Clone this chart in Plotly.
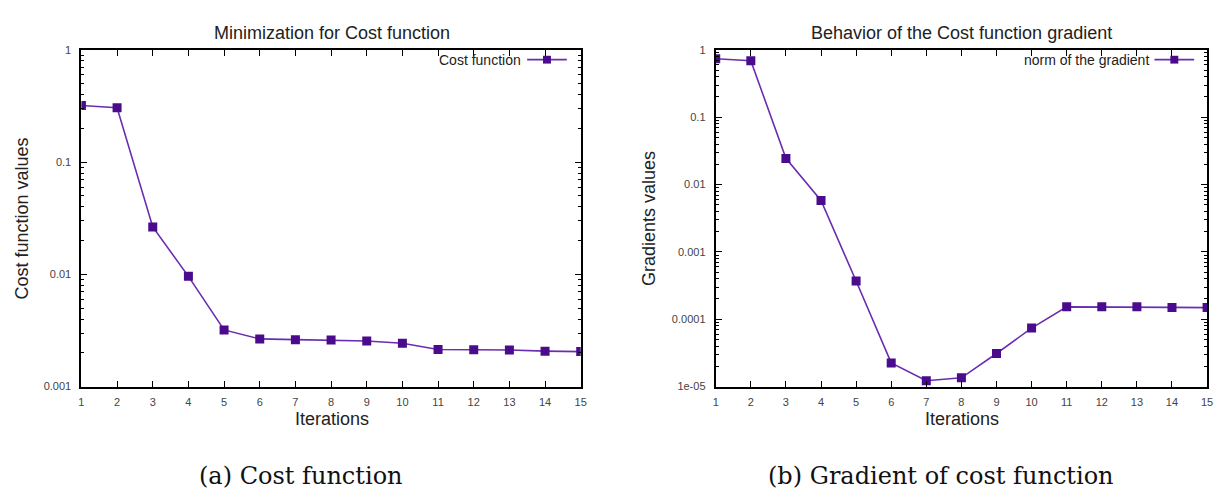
import plotly.graph_objects as go

iterations = list(range(1, 16))
cost_values = [0.32, 0.305, 0.0265, 0.0096, 0.0032, 0.00266, 0.00262, 0.0026, 0.00255,
               0.00243, 0.00214, 0.00213, 0.00212, 0.00207, 0.00205]
grad_values = [0.74, 0.69, 0.0245, 0.0058, 0.00037, 2.25e-05, 1.22e-05, 1.35e-05, 3.1e-05,
               7.4e-05, 1.53e-04, 1.53e-04, 1.53e-04, 1.50e-04, 1.49e-04]

cost_ticks = [0.001, 0.01, 0.1, 1]
cost_ticktext = ["0.001", "0.01", "0.1", "1"]
grad_ticks = [1e-05, 1e-04, 1e-03, 1e-02, 1e-01, 1]
grad_ticktext = ["1e-05", "0.0001", "0.001", "0.01", "0.1", "1"]

LINE = "#6a2db0"
MARK = "#4a0b8c"
W, H = 1224, 498


def minor_vals(decades):
    return [m * d for d in decades[:-1] for m in range(2, 10)]


fig = go.Figure()
fig.add_trace(go.Scatter(x=iterations, y=cost_values, mode="lines+markers", name="Cost function",
                         line=dict(color=LINE, width=1.6),
                         marker=dict(symbol="square", size=9, color=MARK),
                         xaxis="x", yaxis="y", showlegend=False))
fig.add_trace(go.Scatter(x=iterations, y=grad_values, mode="lines+markers", name="norm of the gradient",
                         line=dict(color=LINE, width=1.6),
                         marker=dict(symbol="square", size=9, color=MARK),
                         xaxis="x2", yaxis="y2", showlegend=False))

L0, L1 = 79 / W, 582 / W
R0, R1 = 718 / W, 1213 / W
T, B = 1 - 45 / H, 1 - 390 / H

sans = "Liberation Sans, Arial, sans-serif"
tickfont = dict(family=sans, size=11, color="#444")
xcommon = dict(range=[1, 15], tickmode="array", tickvals=iterations, ticks="inside", ticklen=6,
               tickwidth=1.2, showline=True, linecolor="black", linewidth=2, mirror="allticks",
               showgrid=False, zeroline=False, tickfont=tickfont, tickcolor="black",
               ticklabelstandoff=4)
ycommon = dict(type="log", ticks="inside", ticklen=6, tickwidth=1.2, showline=True,
               linecolor="black", linewidth=2, mirror="allticks", showgrid=False,
               zeroline=False, tickfont=tickfont, tickcolor="black", ticklabelstandoff=6)

fig.update_layout(
    width=W, height=H, margin=dict(l=0, r=0, t=0, b=0),
    paper_bgcolor="white", plot_bgcolor="white",
    xaxis=dict(domain=[L0, L1], anchor="y", **xcommon),
    yaxis=dict(domain=[B, T], anchor="x", range=[-3, 0], tickvals=cost_ticks,
               ticktext=cost_ticktext,
               minor=dict(tickmode="array", tickvals=minor_vals(cost_ticks), ticks="inside",
                          ticklen=3, tickcolor="black", showgrid=False),
               **ycommon),
    xaxis2=dict(domain=[R0, R1], anchor="y2", **xcommon),
    yaxis2=dict(domain=[B, T], anchor="x2", range=[-5, 0], tickvals=grad_ticks,
                ticktext=grad_ticktext,
                minor=dict(tickmode="array", tickvals=minor_vals(grad_ticks), ticks="inside",
                           ticklen=3, tickcolor="black", showgrid=False),
                **ycommon),
)


def ann(text, x, y, size, rot=0, font=sans, xanchor="center", color="#222"):
    fig.add_annotation(text=text, x=x / W, y=1 - y / H, xref="paper", yref="paper",
                       showarrow=False, textangle=rot, xanchor=xanchor, yanchor="middle",
                       font=dict(family=font, size=size, color=color))


ann("Minimization for Cost function", 331, 28, 18)
ann("Behavior of the Cost function gradient", 966, 28, 18)
ann("Iterations", 331, 423, 18)
ann("Iterations", 966, 423, 18)
ann("Cost function values", 19, 218, 18, rot=-90)
ann("Gradients values", 651, 218, 18, rot=-90)
serif = "DejaVu Serif, Liberation Serif, serif"
ann("(a) Cost function", 300, 482, 24, font=serif, color="#111")
ann("(b) Gradient of cost function", 945, 482, 24, font=serif, color="#111")


# legend keys (gnuplot style: text then sample)
def legend_key(text, x_text_right, x0, x1, y):
    ann(text, x_text_right, y, 14, xanchor="right")
    fig.add_shape(type="line", xref="paper", yref="paper", x0=x0 / W, x1=x1 / W,
                  y0=1 - y / H, y1=1 - y / H, line=dict(color=LINE, width=1.6))
    xc = (x0 + x1) / 2
    fig.add_shape(type="rect", xref="paper", yref="paper", x0=(xc - 4) / W, x1=(xc + 4) / W,
                  y0=1 - (y + 4) / H, y1=1 - (y - 4) / H, fillcolor=MARK, line=dict(width=0))


legend_key("Cost function", 524, 528, 568, 55)
legend_key("norm of the gradient", 1156, 1160, 1200, 55)

fig.write_html("out.html")
